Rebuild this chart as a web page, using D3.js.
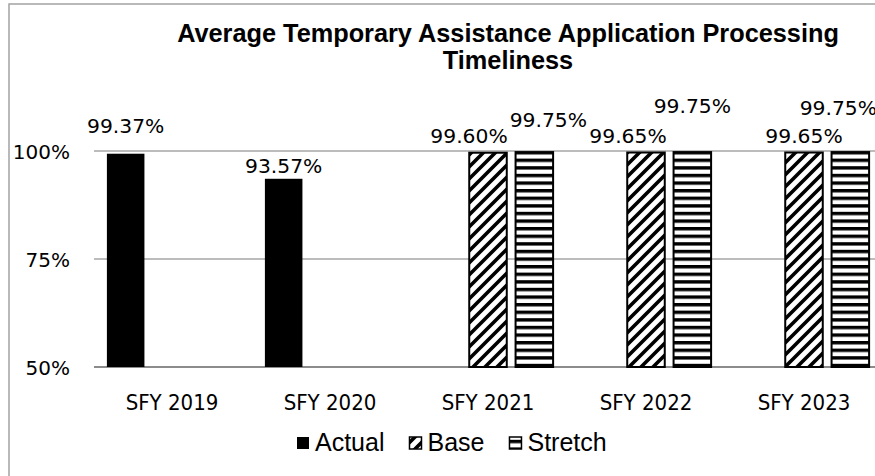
<!doctype html>
<html lang="en">
<head>
  <meta charset="utf-8">
  <title>Average Temporary Assistance Application Processing Timeliness</title>
  <style>
  body{
    margin: 0;
    background: #fff;
  }
  svg{
    display: block;
  }
  </style>
  <script src="https://d3js.org/d3.v7.min.js"></script>
</head>

<body>
  <div id="area1"></div>

  <script>
  // chart data
  var categories = ["SFY 2019", "SFY 2020", "SFY 2021", "SFY 2022", "SFY 2023"];
  var seriesNames = ["Actual", "Base", "Stretch"];
  var actual = [0.9937, 0.9357, null, null, null];
  var base = [null, null, 0.9960, 0.9965, 0.9965];
  var stretch = [null, null, 0.9975, 0.9975, 0.9975];
  var yTicks = [0.5, 0.75, 1];

  var W = 875, H = 476;

  var svg = d3.select('#area1').append('svg')
    .attr('width', W)
    .attr('height', H);

  // patterns for base (upward diagonal) and stretch (horizontal)
  var defs = svg.append('defs');
  var diag = defs.append('pattern')
    .attr('id', 'diag')
    .attr('patternUnits', 'userSpaceOnUse')
    .attr('width', 12)
    .attr('height', 12);
  diag.append('rect').attr('width', 12).attr('height', 12).attr('fill', '#fff');
  diag.append('path')
    .attr('d', 'M-3,15 L15,-3 M-3,3 L3,-3 M9,15 L15,9')
    .attr('stroke', '#000')
    .attr('stroke-width', 3.6);

  var horiz = defs.append('pattern')
    .attr('id', 'horiz')
    .attr('patternUnits', 'userSpaceOnUse')
    .attr('width', 8)
    .attr('height', 7.6)
    .attr('y', 151);
  horiz.append('rect').attr('width', 8).attr('height', 7.6).attr('fill', '#fff');
  horiz.append('rect').attr('y', 0).attr('width', 8).attr('height', 3.4).attr('fill', '#000');

  var fills = {Actual: '#000', Base: 'url(#diag)', Stretch: 'url(#horiz)'};

  // chart frame
  svg.append('rect')
    .attr('x', 9)
    .attr('y', 4)
    .attr('width', W + 20)
    .attr('height', H + 20)
    .attr('fill', 'none')
    .attr('stroke', '#a3a3a3')
    .attr('stroke-width', 1.5);

  // scales
  var x = d3.scaleBand()
    .domain(categories)
    .range([93, 93 + 158 * 5])
    .padding(0);

  var xs = d3.scaleBand()
    .domain(seriesNames)
    .range([0, x.bandwidth()])
    .paddingInner(0.19)
    .paddingOuter(0.3);

  var y = d3.scaleLinear()
    .domain([0.5, 1])
    .range([367, 151]);

  // gridlines
  svg.append('g')
    .selectAll('line')
    .data(yTicks)
    .enter()
    .append('line')
    .attr('x1', 94)
    .attr('x2', W)
    .attr('y1', function(d) { return y(d); })
    .attr('y2', function(d) { return y(d); })
    .attr('stroke', function(d) { return d == 0.5 ? '#8c8c8c' : '#a6a6a6'; })
    .attr('stroke-width', function(d) { return d == 0.5 ? 2 : 1.5; });

  // y axis labels
  var yAxis = d3.axisLeft(y)
    .tickValues(yTicks)
    .tickFormat(d3.format('.0%'))
    .tickSize(0)
    .tickPadding(0);

  var gy = svg.append('g')
    .attr('transform', 'translate(70,0)')
    .call(yAxis);
  gy.select('.domain').remove();
  gy.selectAll('text')
    .attr('font-family', 'DejaVu Sans, sans-serif')
    .attr('font-size', '20px')
    .attr('fill', '#000')
    .attr('dy', '0.36em');

  // x axis labels
  var xAxis = d3.axisBottom(x).tickSize(0).tickPadding(0);
  var gx = svg.append('g')
    .attr('transform', 'translate(0,393)')
    .call(xAxis);
  gx.select('.domain').remove();
  gx.selectAll('text')
    .attr('font-family', '"DejaVu Sans Condensed", sans-serif')
    .attr('font-size', '22px')
    .attr('fill', '#000')
    .attr('dy', '0.76em');

  // rows for bars
  var rows = [];
  var lists = {Actual: actual, Base: base, Stretch: stretch};
  seriesNames.forEach(function(s) {
    lists[s].forEach(function(v, i) {
      if (v != null) rows.push({series: s, cat: categories[i], i: i, value: v});
    });
  });

  // bars
  svg.append('g')
    .selectAll('rect')
    .data(rows)
    .enter()
    .append('rect')
    .attr('x', function(d) { return x(d.cat) + xs(d.series); })
    .attr('y', function(d) { return y(d.value); })
    .attr('width', xs.bandwidth())
    .attr('height', function(d) { return y(0.5) - y(d.value); })
    .attr('fill', function(d) { return fills[d.series]; })
    .attr('stroke', '#000')
    .attr('stroke-width', function(d) { return d.series == 'Actual' ? 0 : 2; });

  // label nudges (labels were dragged by hand in the original)
  var nudge = {
    Actual: [[0, -15], [0, 0], [0, 0], [0, 0], [0, 0]],
    Base: [[0, 0], [0, 0], [-19, -4], [-18, -4], [0, -4]],
    Stretch: [[0, 0], [0, 0], [14, -19], [0, -33], [-12, -31]]
  };

  var pct = d3.format('.2%');
  svg.append('g')
    .selectAll('text')
    .data(rows)
    .enter()
    .append('text')
    .attr('x', function(d) { return x(d.cat) + xs(d.series) + xs.bandwidth() / 2 + nudge[d.series][d.i][0]; })
    .attr('y', function(d) { return y(d.value) - 6 + nudge[d.series][d.i][1]; })
    .attr('text-anchor', 'middle')
    .attr('font-family', 'DejaVu Sans, sans-serif')
    .attr('font-size', '20.3px')
    .attr('fill', '#000')
    .text(function(d) { return pct(d.value); });

  // title
  var title = svg.append('text')
    .attr('text-anchor', 'middle')
    .attr('font-family', '"Liberation Sans", Arial, sans-serif')
    .attr('font-weight', 'bold')
    .attr('font-size', '25.3px')
    .attr('fill', '#000');
  title.append('tspan').attr('x', 508).attr('y', 42).text('Average Temporary Assistance Application Processing');
  title.append('tspan').attr('x', 508).attr('y', 69).text('Timeliness');

  // legend
  var legend = svg.append('g');
  var lx = 297;
  seriesNames.forEach(function(s) {
    legend.append('rect')
      .attr('x', lx)
      .attr('y', 437)
      .attr('width', 12)
      .attr('height', 12)
      .attr('fill', fills[s])
      .attr('stroke', '#000')
      .attr('stroke-width', s == 'Actual' ? 0 : 1.5);
    var t = legend.append('text')
      .attr('x', lx + 18)
      .attr('y', 451)
      .attr('font-family', '"Liberation Sans", Arial, sans-serif')
      .attr('font-size', '25px')
      .attr('fill', '#000')
      .text(s);
    lx = lx + 18 + t.node().getComputedTextLength() + 25;
  });
  </script>
</body>
</html>
